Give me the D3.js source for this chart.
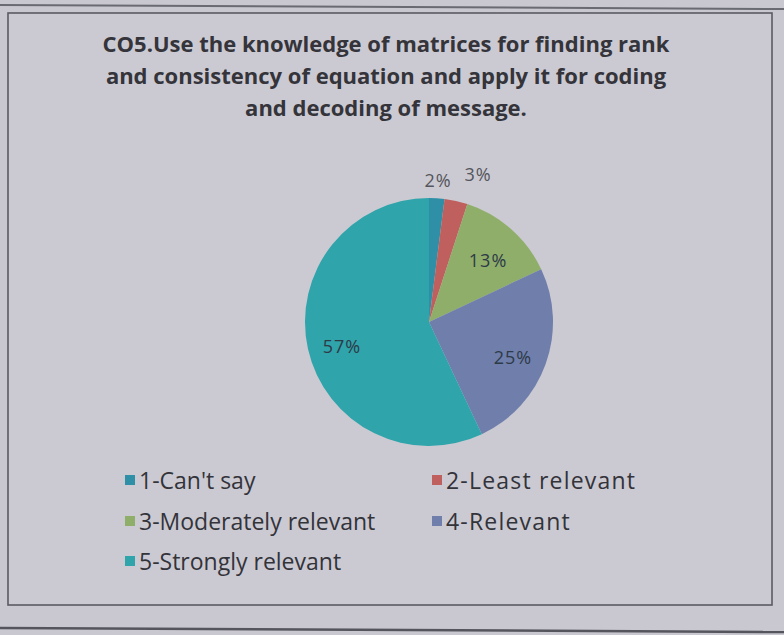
<!DOCTYPE html>
<html>
<head>
<meta charset="utf-8">
<script src="https://cdnjs.cloudflare.com/ajax/libs/d3/7.8.5/d3.min.js"></script>
<style>
  html, body { margin: 0; padding: 0; background: #c9c8d0; }
  svg { display: block; }
</style>
</head>
<body>
<svg id="chart" width="784" height="635"></svg>
<script>
// Survey responses for course outcome CO5
const titleLines = [
  "CO5.Use the knowledge of matrices for finding rank",
  "and consistency of equation and apply it for coding",
  "and decoding of message."
];
const categories = ["1-Can't say", "2-Least relevant", "3-Moderately relevant", "4-Relevant", "5-Strongly relevant"];
const percents = [2, 3, 13, 25, 57];
const colors = ["#2f8fa6", "#c0605e", "#8fae6a", "#6f7eab", "#2fa4ab"];

const svg = d3.select("#chart");
const W = 784, H = 635;
const font = "'Open Sans', Lato, sans-serif";

// paper background and frame
svg.append("rect").attr("width", W).attr("height", H).attr("fill", "#c9c8d0");
svg.append("line").attr("x1", 0).attr("x2", W).attr("y1", 5).attr("y2", 9)
  .attr("stroke", "#6a6a72").attr("stroke-width", 2);
svg.append("rect").attr("x", 8).attr("y", 13).attr("width", 764).attr("height", 592)
  .attr("fill", "#cbcad2").attr("stroke", "#5a5a62").attr("stroke-width", 1.6);
svg.append("line").attr("x1", 0).attr("x2", W).attr("y1", 628).attr("y2", 632)
  .attr("stroke", "#55555d").attr("stroke-width", 2.5);

// title
const title = svg.append("text")
  .attr("text-anchor", "middle")
  .attr("font-family", font)
  .attr("font-weight", "bold")
  .attr("font-size", 22)
  .attr("fill", "#34343a");
titleLines.forEach((t, i) => {
  title.append("tspan").attr("x", 386).attr("y", 52 + i * 32).text(t);
});

// pie
const cx = 429, cy = 322, r = 124;
const data = categories.map((c, i) => ({ cat: c, value: percents[i], color: colors[i] }));
const pie = d3.pie().value(d => d.value).sort(null);
const arcs = pie(data);
const arc = d3.arc().innerRadius(0).outerRadius(r);
const g = svg.append("g").attr("transform", `translate(${cx},${cy})`);
g.selectAll("path").data(arcs).join("path")
  .attr("d", arc)
  .attr("fill", d => d.data.color);

// percentage labels: inside for large slices, outside for thin ones
const inner = d3.arc().innerRadius(r * 0.72).outerRadius(r * 0.72);
const outerR = { 0: 1.15, 1: 1.26 };
const outerShift = { 0: 0, 1: 0.1 };
g.selectAll("text.pct").data(arcs).join("text")
  .attr("class", "pct")
  .attr("text-anchor", "middle")
  .attr("dominant-baseline", "central")
  .attr("font-family", font)
  .attr("font-size", 18)
  .attr("letter-spacing", 1)
  .attr("fill", (d, i) => i < 2 ? "#55555c" : "#2e3a48")
  .attr("transform", (d, i) => {
    if (d.data.value < 5) {
      const a = (d.startAngle + d.endAngle) / 2 + outerShift[i];
      const rr = r * outerR[i];
      return `translate(${Math.sin(a) * rr},${-Math.cos(a) * rr})`;
    }
    const c = inner.centroid(d);
    return `translate(${c[0]},${c[1] + 5})`;
  })
  .text(d => d.data.value + "%");

// legend, two columns
const legend = svg.append("g")
  .attr("font-family", font)
  .attr("font-size", 23)
  .attr("fill", "#33333a");
const colX = [125, 432], rowY = [480, 521, 561];
data.forEach((d, i) => {
  const x = colX[i % 2], y = rowY[Math.floor(i / 2)];
  legend.append("rect").attr("x", x).attr("y", y - 5).attr("width", 10).attr("height", 10)
    .attr("fill", d.color);
  legend.append("text").attr("x", x + 14).attr("y", y).attr("dominant-baseline", "central")
    .attr("letter-spacing", i % 2 ? 1.2 : 0)
    .text(d.cat);
});
</script>
</body>
</html>
